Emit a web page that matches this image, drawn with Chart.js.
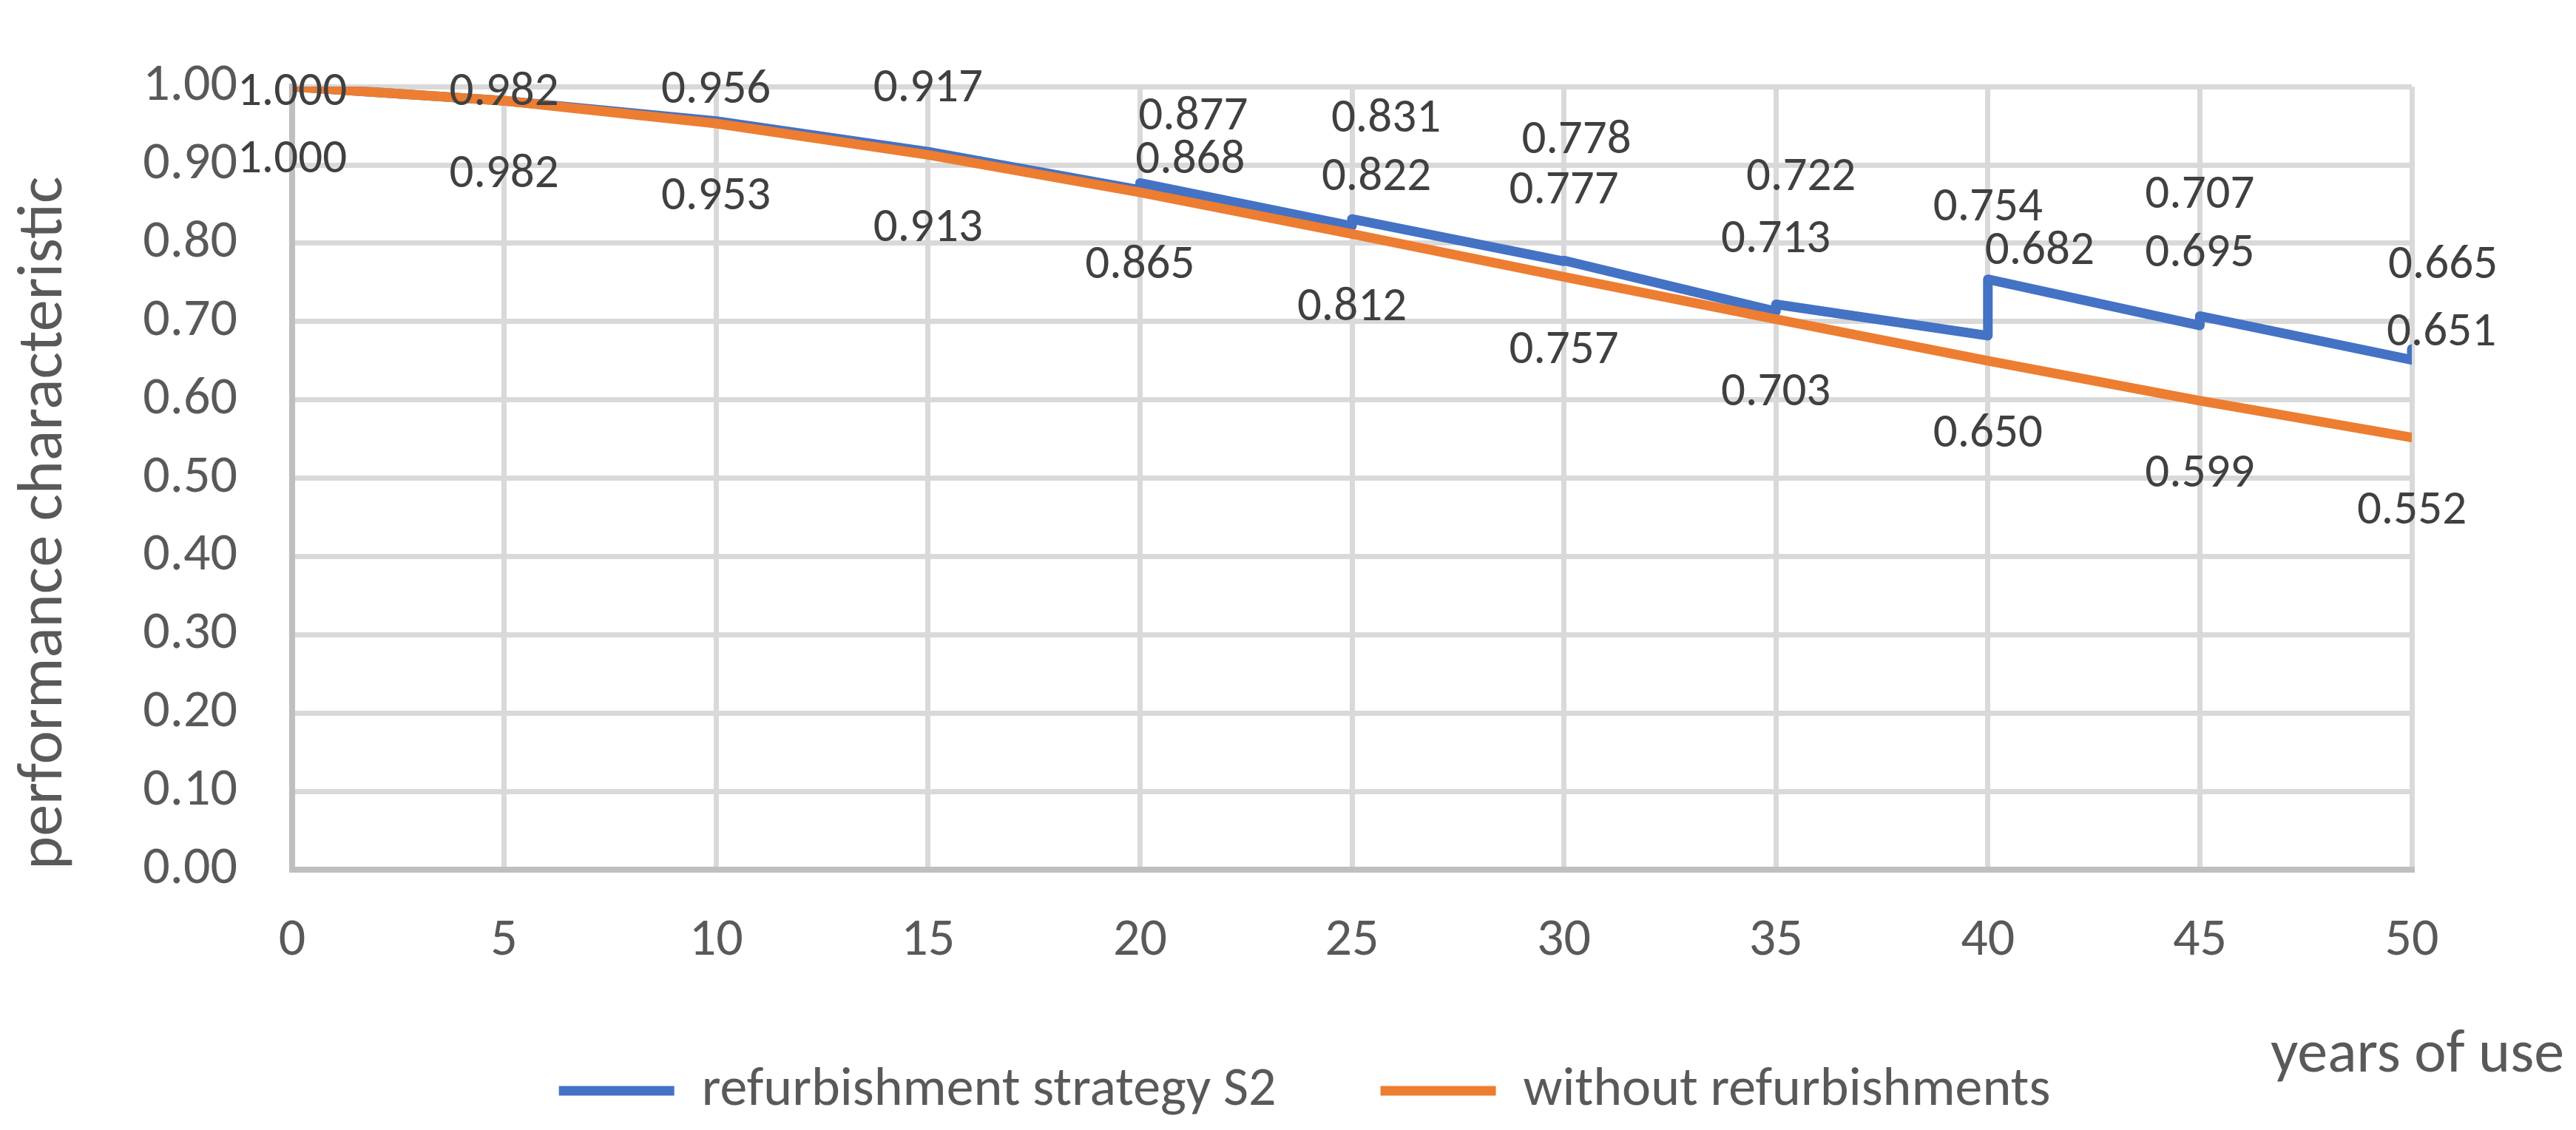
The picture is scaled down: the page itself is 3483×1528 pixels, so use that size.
<!DOCTYPE html>
<html>
<head>
<meta charset="utf-8">
<script src="https://cdn.jsdelivr.net/npm/chart.js@4.4.1/dist/chart.umd.min.js"></script>
<style>
  html, body { margin: 0; padding: 0; background: #fff; }
</style>
</head>
<body>
<canvas id="perf-chart" width="3483" height="1528"></canvas>
<script>
// values
var years = [0, 5, 10, 15, 20, 25, 30, 35, 40, 45, 50];
var withoutRefurb = [1.000, 0.982, 0.953, 0.913, 0.865, 0.812, 0.757, 0.703, 0.650, 0.599, 0.552];

// strategy S2 jumps up at each refurbishment year, so those years appear twice
var s2Years = [0, 5, 10, 15, 20, 20, 25, 25, 30, 30, 35, 35, 40, 40, 45, 45, 50, 50];
var s2Values = [1.000, 0.982, 0.956, 0.917, 0.868, 0.877, 0.822, 0.831, 0.777, 0.778,
                0.713, 0.722, 0.682, 0.754, 0.695, 0.707, 0.651, 0.665];

var seriesNames = ['refurbishment strategy S2', 'without refurbishments'];

// label nudges in px (dx, dy) for the S2 labels, as placed in the original
var s2LabelShift = [[0, 9], [0, -11], [0, -41], [0, -84], [68, -39], [72, -89], [33, -65], [46, -134],
                    [0, -95], [17, -162], [0, -96], [34, -171], [70, -113], [0, -96], [0, -96], [0, -163],
                    [40, -36], [42, -112]];
var plainLabelShift = [0, 100];

var FONT = '"Carlito", "Lato", sans-serif';

function toPoints(xs, ys) {
    var pts = [];
    for (let i = 0; i < xs.length; i++) pts.push({ x: xs[i], y: ys[i] });
    return pts;
}

var valueLabels = {
    id: 'valueLabels',
    afterDatasetsDraw(chart) {
        var ctx = chart.ctx;
        ctx.save();
        ctx.font = '65px ' + FONT;
        ctx.fillStyle = '#404040';
        ctx.textAlign = 'center';
        ctx.textBaseline = 'middle';
        chart.data.datasets.forEach(function (ds, i) {
            var meta = chart.getDatasetMeta(i);
            meta.data.forEach(function (pt, j) {
                var s = ds.labelShift ? ds.labelShift[j] : plainLabelShift;
                ctx.fillText(ds.data[j].y.toFixed(3), pt.x + s[0], pt.y + s[1]);
            });
        });
        ctx.restore();
    }
};

// Excel puts the x axis title under the right end, past the plot
var xTitle = {
    id: 'xTitle',
    afterDraw(chart) {
        var ctx = chart.ctx;
        var area = chart.chartArea;
        ctx.save();
        ctx.font = '82px ' + FONT;
        ctx.fillStyle = '#595959';
        ctx.textAlign = 'right';
        ctx.textBaseline = 'middle';
        ctx.fillText('years of use', area.right + 206, area.bottom + 252);
        ctx.restore();
    }
};

// the legend in the original sits a bit left of the plot centre
var legendNudge = {
    id: 'legendNudge',
    afterLayout(chart) {
        chart.legend.left -= 64;
        chart.legend.right -= 64;
    }
};

new Chart(document.getElementById('perf-chart'), {
    type: 'line',
    data: {
        datasets: [{
            label: seriesNames[0],
            data: toPoints(s2Years, s2Values),
            labelShift: s2LabelShift,
            borderColor: '#4472C4',
            backgroundColor: '#4472C4',
            borderWidth: 13,
            borderCapStyle: 'round',
            borderJoinStyle: 'round',
            pointRadius: 0,
            order: 1
        }, {
            label: seriesNames[1],
            data: toPoints(years, withoutRefurb),
            borderColor: '#ED7D31',
            backgroundColor: '#ED7D31',
            borderWidth: 13,
            borderCapStyle: 'round',
            borderJoinStyle: 'round',
            pointRadius: 0,
            order: 0
        }]
    },
    options: {
        responsive: false,
        animation: false,
        layout: { padding: { top: 80, right: 222, bottom: 6, left: 0 } },
        scales: {
            x: {
                type: 'linear',
                min: 0,
                max: 50,
                ticks: { stepSize: 5, padding: 54, color: '#595959', font: { family: FONT, size: 72 } },
                grid: { color: '#d9d9d9', lineWidth: 7, drawTicks: false },
                border: { color: '#bfbfbf', width: 8 },
                afterFit: function (scale) { scale.height = 121; }
            },
            y: {
                min: 0,
                max: 1,
                ticks: {
                    stepSize: 0.1,
                    padding: 74,
                    color: '#595959',
                    font: { family: FONT, size: 72 },
                    callback: function (v) { return v.toFixed(2); }
                },
                grid: { color: '#d9d9d9', lineWidth: 7, drawTicks: false },
                border: { color: '#bfbfbf', width: 8 },
                title: {
                    display: true,
                    text: 'performance characteristic',
                    align: 'start',
                    color: '#595959',
                    font: { family: FONT, size: 86 },
                    padding: { top: 10, bottom: 0 }
                },
                afterFit: function (scale) { scale.width = 395; }
            }
        },
        plugins: {
            legend: {
                position: 'bottom',
                fullSize: false,
                labels: {
                    usePointStyle: true,
                    pointStyle: 'line',
                    pointStyleWidth: 156,
                    color: '#595959',
                    font: { family: FONT, size: 74 },
                    padding: 141,
                    generateLabels: function (chart) {
                        var items = Chart.defaults.plugins.legend.labels.generateLabels(chart);
                        items.forEach(function (it) { it.lineWidth = 13; });
                        return items;
                    },
                    sort: function (a, b) { return a.datasetIndex - b.datasetIndex; }
                }
            },
            tooltip: { enabled: false }
        }
    },
    plugins: [valueLabels, xTitle, legendNudge]
});
</script>
</body>
</html>
